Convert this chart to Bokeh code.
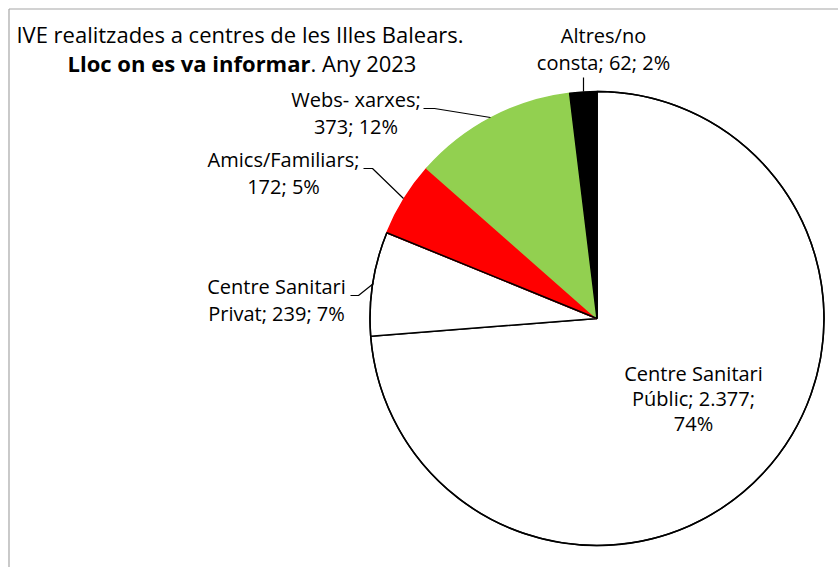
import math
from bokeh.plotting import figure
from bokeh.models import Range1d, ColumnDataSource
from bokeh.core.properties import value
from bokeh.embed import file_html
from bokeh.resources import INLINE

# ---- data ----
categories = ["Centre Sanitari Públic", "Centre Sanitari Privat", "Amics/Familiars",
              "Webs- xarxes", "Altres/no consta"]
values = [2377, 239, 172, 373, 62]
value_labels = ["2.377", "239", "172", "373", "62"]
percent_labels = ["74%", "7%", "5%", "12%", "2%"]
colors = ["#FFFFFF", "#FFFFFF", "#FF0000", "#92D050", "#000000"]
title_line1 = "IVE realitzades a centres de les Illes Balears."
title_bold = "Lloc on es va informar"
title_rest = ". Any 2023"

W, H = 838, 567
FONT = "Open Sans"
FS = "20px"
TFS = "22px"
DY = 9  # correction for text baseline placement

def X(sx):
    return sx

def Y(sy):
    return H - sy

p = figure(width=W, height=H, output_backend="svg", toolbar_location=None,
           x_range=Range1d(0, W), y_range=Range1d(0, H), min_border=0)
p.axis.visible = False
p.grid.visible = False
p.outline_line_color = None
p.background_fill_color = "white"

# border (top and left visible)
p.line([X(8.5), W], [Y(8.5), Y(8.5)], line_color="#A6A6A6", line_width=1.2)
p.line([X(8.5), X(8.5)], [Y(8.5), 0], line_color="#A6A6A6", line_width=1.2)

# ---- pie ----
cx, cy, r = X(596.5), Y(318), 227
total = float(sum(values))
starts, ends = [], []
cum = 0.0
for v in values:
    starts.append(math.pi / 2 - cum / total * 2 * math.pi)
    cum += v
    ends.append(math.pi / 2 - cum / total * 2 * math.pi)
line_cols = ["black" if c == "#FFFFFF" else c for c in colors]
src = ColumnDataSource(dict(start=starts, end=ends, color=colors, lc=line_cols,
                            cat=categories))
p.wedge(x=cx, y=cy, radius=r, start_angle="start", end_angle="end",
        direction="clock", fill_color="color", line_color="lc", line_width=1.5,
        source=src)
# redraw white slice borders on top
p.wedge(x=cx, y=cy, radius=r, start_angle=starts[0], end_angle=ends[1],
        direction="clock", fill_color=None, line_color="black", line_width=1.5)

def txt(sx, sy, s, align="center", bold=False, size=FS):
    p.text(x=[X(sx)], y=[Y(sy - DY)], text=[s], text_font=value(FONT),
           text_font_size=size, text_align=align, text_baseline="alphabetic",
           text_color="#000000", text_font_style="bold" if bold else "normal")

# title
txt(239.5, 42, title_line1, size=TFS)
txt(310, 71, title_bold, align="right", bold=True, size=TFS)
txt(310, 71, title_rest, align="left", size=TFS)

# Públic
txt(693, 382, "Centre Sanitari")
txt(693, 407, f"Públic; {value_labels[0]};")
txt(693, 432, percent_labels[0])
# Privat
txt(276, 295, "Centre Sanitari")
txt(276, 322, f"Privat; {value_labels[1]}; {percent_labels[1]}")
# Amics
txt(283, 168, f"{categories[2]};")
txt(283, 195, f"{value_labels[2]}; {percent_labels[2]}")
# Webs
txt(355.5, 108, f"{categories[3]};")
txt(355.5, 135, f"{value_labels[3]}; {percent_labels[3]}")
# Altres
txt(603, 44, "Altres/no")
txt(603, 71, f"consta; {value_labels[4]}; {percent_labels[4]}")

# leader lines
def leader(pts):
    p.line([X(a) for a, b in pts], [Y(b) for a, b in pts], line_color="black",
           line_width=1.2)

leader([(350, 295), (358, 295), (373, 283)])
leader([(363, 168), (372, 168), (403, 198)])
leader([(423, 108), (434, 108), (490, 117)])
leader([(583, 77), (583, 91)])

open("out.html", "w").write(file_html(p, INLINE))
